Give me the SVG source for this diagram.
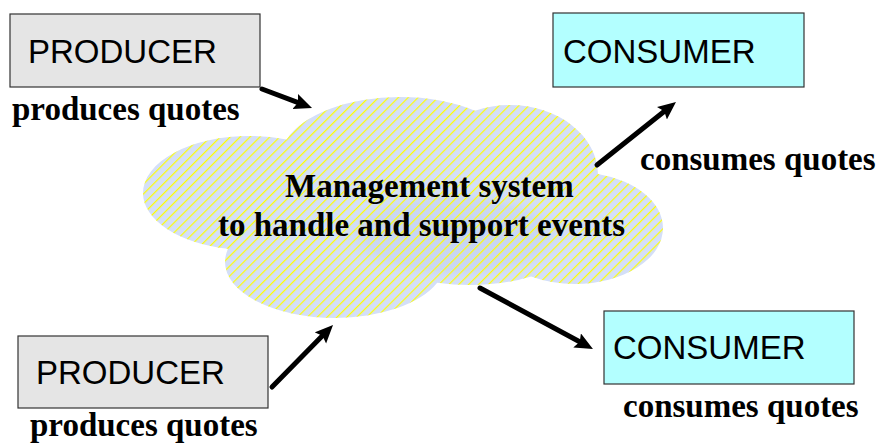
<svg xmlns="http://www.w3.org/2000/svg" width="878" height="448" viewBox="0 0 878 448">
  <style>
    .box-label { font-family: "Liberation Sans", Arial, sans-serif; font-size: 33px; fill: #000; }
    .caption { font-family: "Liberation Serif", "Times New Roman", serif; font-size: 33px; font-weight: bold; fill: #000; }
    .producer { fill: #e5e5e5; stroke: #333; stroke-width: 1.2; }
    .consumer { fill: #b3ffff; stroke: #333; stroke-width: 1.2; }
    .arrow { stroke: #000; stroke-width: 5; stroke-linecap: round; fill: none; marker-end: url(#head); }
  </style>
  <defs>
    <marker id="head" markerUnits="userSpaceOnUse" markerWidth="20" markerHeight="18" refX="6" refY="8" orient="auto">
      <path d="M0,0 L18,8 L0,16 L3,8 z" fill="#000"/>
    </marker>
    <pattern id="hatch" patternUnits="userSpaceOnUse" width="7" height="7" patternTransform="rotate(45)">
      <rect x="0" y="0" width="1.2" height="7" fill="#ffff00"/>
    </pattern>
    <radialGradient id="shade" cx="0.5" cy="0.5" r="0.5">
      <stop offset="0" stop-color="#c6d4f3"/>
      <stop offset="0.7" stop-color="#cad7f4"/>
      <stop offset="1" stop-color="#d5e0f8" stop-opacity="0"/>
    </radialGradient>
    <clipPath id="cloudClip">
      <ellipse cx="250" cy="193" rx="107" ry="57"/>
      <ellipse cx="400" cy="160" rx="120" ry="63"/>
      <ellipse cx="510" cy="175" rx="88" ry="70"/>
      <ellipse cx="575" cy="228" rx="88" ry="56"/>
      <ellipse cx="335" cy="262" rx="110" ry="56"/>
      <ellipse cx="470" cy="235" rx="110" ry="50"/>
    </clipPath>
  </defs>

  <g id="cloud">
    <g clip-path="url(#cloudClip)">
      <rect x="130" y="90" width="550" height="240" fill="#d4dff8"/>
      <ellipse cx="455" cy="235" rx="125" ry="50" fill="url(#shade)"/>
      <rect x="130" y="90" width="550" height="240" fill="url(#hatch)"/>
    </g>
    <text class="caption" x="285" y="197">Management system</text>
    <text class="caption" x="218" y="236">to handle and support events</text>
  </g>

  <g id="producer1">
    <rect class="producer" x="10" y="14" width="250" height="73"/>
    <text class="box-label" x="28" y="63">PRODUCER</text>
    <text class="caption" x="12" y="120">produces quotes</text>
  </g>

  <g id="producer2">
    <rect class="producer" x="18" y="336" width="250" height="72"/>
    <text class="box-label" x="36" y="384">PRODUCER</text>
    <text class="caption" x="30" y="436">produces quotes</text>
  </g>

  <g id="consumer1">
    <rect class="consumer" x="553" y="13" width="251" height="74"/>
    <text class="box-label" x="563" y="63">CONSUMER</text>
    <text class="caption" x="640" y="170">consumes quotes</text>
  </g>

  <g id="consumer2">
    <rect class="consumer" x="604" y="311" width="250" height="73"/>
    <text class="box-label" x="613" y="359">CONSUMER</text>
    <text class="caption" x="623" y="417">consumes quotes</text>
  </g>

  <g id="connectors">
    <line class="arrow" x1="262" y1="89" x2="300.8" y2="103.7"/>
    <line class="arrow" x1="597" y1="165" x2="666.6" y2="109.5"/>
    <line class="arrow" x1="272" y1="387" x2="324.6" y2="333.6"/>
    <line class="arrow" x1="480" y1="288" x2="582.4" y2="343.3"/>
  </g>
</svg>
